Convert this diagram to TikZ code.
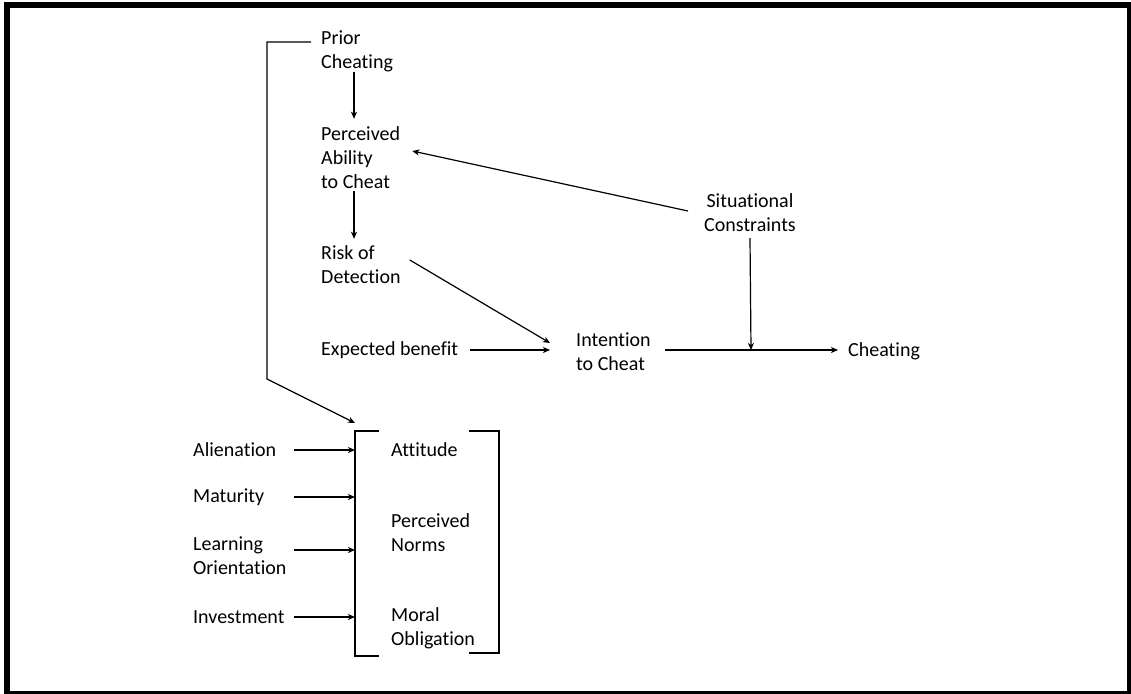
\documentclass[tikz,border=0pt]{standalone}
\usepackage{fontspec}
\setmainfont{Carlito}[Ligatures=NoCommon]
\usetikzlibrary{arrows.meta}
\begin{document}
\begin{tikzpicture}[x=1pt,y=-1pt,
  lbl/.style={inner sep=0pt,anchor=west,align=left,font=\fontsize{20}{24}\selectfont},
  conn/.style={line width=1.2pt},
  arr/.style={conn,-{Stealth[length=7pt,width=6pt,inset=2pt]}}]
\useasboundingbox (0,0) rectangle (1131,693);
% outer frame
\draw[line width=6pt] (7,5) rectangle (1130,694);

% upper chain
\node[lbl] (prior) at (321,51) {Prior\\Cheating};
\node[lbl] (pac) at (321,158) {Perceived\\Ability\\to Cheat};
\node[lbl] (risk) at (321,265) {Risk of\\Detection};
\node[lbl] (exp) at (321,350) {Expected benefit};
\node[lbl] (intent) at (576,352) {Intention\\to Cheat};
\node[lbl,anchor=center,align=center] (sit) at (750,213) {Situational\\Constraints};
\node[lbl] (cheat) at (848,351) {Cheating};

% antecedents
\node[lbl] (alien) at (193,450) {Alienation};
\node[lbl] (mat) at (193,497) {Maturity};
\node[lbl] (learn) at (193,556) {Learning\\Orientation};
\node[lbl] (inv) at (193,617) {Investment};

% bracketed group
\node[lbl] (att) at (391,450) {Attitude};
\node[lbl] (norms) at (391,533) {Perceived\\Norms};
\node[lbl] (moral) at (391,628) {Moral\\Obligation};

% bracket corners and helper points
\coordinate (bTL) at (355,431);
\coordinate (bBL) at (355,656);
\coordinate (bTR) at (499,431);
\coordinate (bBR) at (499,653);
\coordinate (xa) at (354,0);
\coordinate (k1) at (267,42);
\coordinate (k2) at (267,379);
\coordinate (gin) at (355,423);
\coordinate (join) at (751,350);

\draw[conn] ([xshift=24pt]bTL) -- (bTL) -- (bBL) -- ([xshift=24pt]bBL);
\draw[conn] ([xshift=-30pt]bTR) -- (bTR) -- (bBR) -- ([xshift=-30pt]bBR);

% connectors
\draw[arr] (prior.south -| xa) -- ([yshift=8pt]pac.north -| xa);
\draw[arr] ([yshift=-2pt]pac.south -| xa) -- ([yshift=7pt]risk.north -| xa);
\draw[arr] ([shift={(9pt,5pt)}]risk.east) -- ([shift={(-26pt,9pt)}]intent.west);
\draw[arr] ([xshift=12pt]exp.east) -- ([xshift=-26pt]intent.west |- exp.east);
\draw[arr] ([shift={(-16pt,2pt)}]sit.west) -- ([shift={(12pt,7pt)}]pac.east);
\draw[arr] ([yshift=-6pt]sit.south) -- (join);
\draw[arr] ([xshift=14pt]intent.east |- join) -- ([xshift=-10pt]cheat.west |- join);
\draw[arr] ([xshift=-10pt]prior.west |- k1) -- (k1) -- (k2) -- (gin);

\draw[arr] ([xshift=18pt]alien.east) -- (alien.east -| bTL);
\draw[arr] ([xshift=18pt]alien.east |- mat.east) -- (mat.east -| bTL);
\draw[arr] ([xshift=18pt]alien.east |- learn.east) ++(0,-6) -- ([yshift=6pt]learn.east -| bTL);
\draw[arr] ([xshift=18pt]alien.east |- inv.east) -- (inv.east -| bTL);
\end{tikzpicture}
\end{document}
